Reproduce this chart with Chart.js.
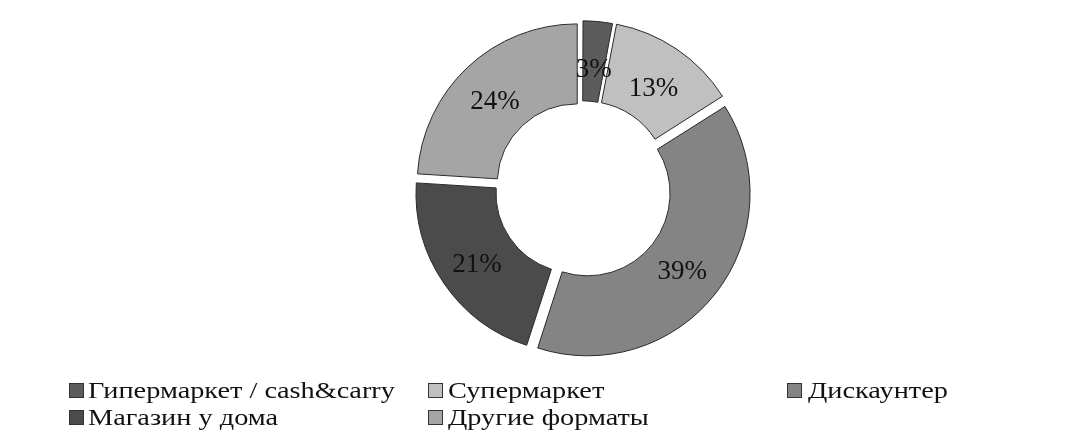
<!DOCTYPE html>
<html>
<head>
<meta charset="utf-8">
<script src="https://cdn.jsdelivr.net/npm/chart.js@4/dist/chart.umd.min.js"></script>
<style>
  html, body { margin: 0; padding: 0; background: #fff; }
  #chart { display: block; }
</style>
</head>
<body>
<canvas id="chart" width="1070" height="440"></canvas>
<script>
// Shares of retail formats, %
const labels = ['Гипермаркет / cash&carry', 'Супермаркет', 'Дискаунтер', 'Магазин у дома', 'Другие форматы'];
const shares = [3, 13, 39, 21, 24];
const colors = ['#5c5c5c', '#c0c0c0', '#848484', '#4b4b4b', '#a5a5a5'];
// explode per slice (chart.js also grows thin slices, so the small one gets less)
const explode = [18, 28, 28, 28, 28];

const SERIF = '"Liberation Serif", "Times New Roman", serif';

// Percent labels inside each slice
const sliceLabels = {
  id: 'sliceLabels',
  afterDatasetsDraw(chart) {
    const ctx = chart.ctx;
    const meta = chart.getDatasetMeta(0);
    ctx.save();
    ctx.font = '27px ' + SERIF;
    ctx.fillStyle = '#111';
    ctx.textAlign = 'center';
    ctx.textBaseline = 'middle';
    meta.data.forEach((arc, i) => {
      const { x, y, startAngle, endAngle, innerRadius, outerRadius } = arc.getProps(
        ['x', 'y', 'startAngle', 'endAngle', 'innerRadius', 'outerRadius'], true);
      const mid = (startAngle + endAngle) / 2;
      // chart.js draws the explode offset at a quarter of the option value
      const r = (innerRadius + outerRadius) / 2 + arc.options.offset / 4;
      ctx.fillText(shares[i] + '%', x + Math.cos(mid) * r, y + Math.sin(mid) * r + 5);
    });
    ctx.restore();
  }
};

// Legend in a 3-column grid below the doughnut (text is a bit wide, like the source)
const gridLegend = {
  id: 'gridLegend',
  afterDraw(chart) {
    const ctx = chart.ctx;
    const colX = [69, 428, 787];
    const textGap = [19, 20, 21];
    const rowY = [398, 425];
    ctx.save();
    ctx.font = '24px ' + SERIF;
    ctx.textBaseline = 'alphabetic';
    labels.forEach((name, i) => {
      const c = i % 3;
      const x = colX[c];
      const y = rowY[Math.floor(i / 3)];
      ctx.fillStyle = colors[i];
      ctx.fillRect(x + 0.5, y - 14.5, 14, 14);
      ctx.strokeStyle = '#333';
      ctx.lineWidth = 1;
      ctx.strokeRect(x + 0.5, y - 14.5, 14, 14);
      ctx.save();
      ctx.translate(x + textGap[c], y);
      ctx.scale(1.18, 1);
      ctx.fillStyle = '#111';
      ctx.fillText(name, 0, 0);
      ctx.restore();
    });
    ctx.restore();
  }
};

new Chart(document.getElementById('chart'), {
  type: 'doughnut',
  data: {
    labels: labels,
    datasets: [{
      data: shares,
      backgroundColor: colors,
      borderColor: '#2a2a2a',
      borderWidth: 1,
      offset: explode,
      hoverOffset: 0,
      radius: 160,
    }],
  },
  options: {
    responsive: false,
    animation: false,
    cutout: '50%',
    layout: { padding: { left: 94, right: 0, top: 15, bottom: 77 } },
    plugins: {
      legend: { display: false },
      tooltip: { enabled: false },
    },
  },
  plugins: [sliceLabels, gridLegend],
});
</script>
</body>
</html>
